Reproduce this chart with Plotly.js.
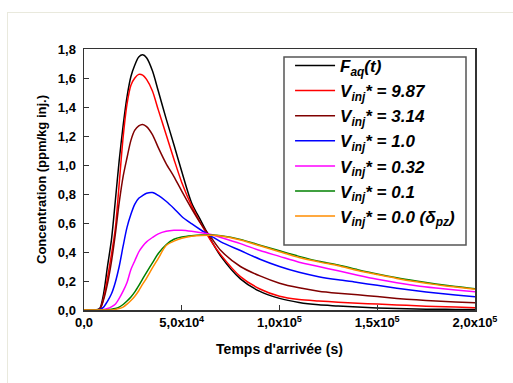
<!DOCTYPE html>
<html>
<head>
<meta charset="utf-8">
<script src="https://cdn.plot.ly/plotly-3.0.1.min.js"></script>
<style>
  html, body { margin: 0; padding: 0; background: #ffffff; }
  #frame { position: absolute; left: 7px; top: 12px; width: 600px; height: 400px;
           border-left: 1px solid #e9e9dd; border-top: 1px solid #e9e9dd; }
  #chart { position: absolute; left: 0; top: 0; width: 513px; height: 383px; }
</style>
</head>
<body>
<div id="frame"></div>
<div id="chart"></div>
<script>
// Time grid (s)
const t = [0, 5000, 8000, 10000, 12000, 14000, 16000, 18000, 20000, 22000, 24000, 26000, 28000, 30000,
  32000, 35000, 38000, 42000, 46000, 50000, 55000, 60000, 65000, 70000, 80000, 90000, 100000, 110000,
  120000, 130000, 140000, 150000, 160000, 170000, 180000, 190000, 200000];

const faq = [0, 0, 0.01, 0.11, 0.30, 0.48, 0.75, 1.03, 1.27, 1.47, 1.61, 1.69, 1.745, 1.76,
  1.74, 1.65, 1.51, 1.32, 1.14, 0.955, 0.74, 0.61, 0.48, 0.37, 0.215, 0.128, 0.08, 0.052,
  0.036, 0.028, 0.02, 0.014, 0.01, 0.007, 0.005, 0.004, 0.003];

const v987 = [0, 0, 0.005, 0.08, 0.22, 0.38, 0.56, 0.87, 1.19, 1.42, 1.55, 1.60, 1.625, 1.62,
  1.59, 1.51, 1.38, 1.21, 1.04, 0.88, 0.72, 0.59, 0.475, 0.38, 0.23, 0.145, 0.095, 0.072,
  0.062, 0.054, 0.047, 0.041, 0.035, 0.029, 0.024, 0.02, 0.016];

const v314 = [0, 0, 0.005, 0.07, 0.18, 0.33, 0.52, 0.74, 0.92, 1.05, 1.17, 1.24, 1.27, 1.28,
  1.265, 1.21, 1.12, 1.01, 0.92, 0.82, 0.70, 0.59, 0.50, 0.41, 0.30, 0.235, 0.185, 0.153,
  0.13, 0.116, 0.105, 0.093, 0.08, 0.07, 0.062, 0.056, 0.05];

const v10 = [0, 0, 0.003, 0.02, 0.06, 0.11, 0.19, 0.30, 0.44, 0.57, 0.66, 0.73, 0.77, 0.79,
  0.805, 0.81, 0.79, 0.75, 0.70, 0.645, 0.595, 0.55, 0.51, 0.47, 0.41, 0.35, 0.30, 0.26,
  0.23, 0.208, 0.19, 0.17, 0.15, 0.132, 0.117, 0.104, 0.092];

const v032 = [0, 0, 0, 0.004, 0.01, 0.022, 0.04, 0.08, 0.13, 0.19, 0.28, 0.34, 0.40, 0.44,
  0.47, 0.50, 0.525, 0.543, 0.55, 0.55, 0.543, 0.533, 0.52, 0.50, 0.458, 0.41, 0.37, 0.33,
  0.30, 0.27, 0.24, 0.212, 0.188, 0.168, 0.152, 0.138, 0.126];

const v01 = [0, 0, 0, 0, 0.002, 0.005, 0.01, 0.02, 0.038, 0.062, 0.09, 0.125, 0.168, 0.215,
  0.26, 0.325, 0.39, 0.45, 0.488, 0.503, 0.512, 0.517, 0.517, 0.512, 0.487, 0.447, 0.408, 0.37,
  0.336, 0.31, 0.278, 0.248, 0.222, 0.2, 0.18, 0.162, 0.147];

const v00 = [0, 0, 0, 0, 0, 0, 0.004, 0.01, 0.02, 0.04, 0.065, 0.095, 0.133, 0.178,
  0.22, 0.29, 0.356, 0.445, 0.475, 0.495, 0.508, 0.514, 0.515, 0.51, 0.483, 0.443, 0.402, 0.362,
  0.332, 0.305, 0.273, 0.245, 0.218, 0.195, 0.175, 0.158, 0.143];

const seriesNames = [
  'F<sub>aq</sub>(t)',
  'V<sub>inj</sub>* = 9.87',
  'V<sub>inj</sub>* = 3.14',
  'V<sub>inj</sub>* = 1.0',
  'V<sub>inj</sub>* = 0.32',
  'V<sub>inj</sub>* = 0.1',
  'V<sub>inj</sub>* = 0.0 (δ<sub>pz</sub>)'
];
const seriesData = [faq, v987, v314, v10, v032, v01, v00];
const seriesColors = ['#000000', '#ff0000', '#800000', '#0000ff', '#ff00ff', '#008000', '#ff8c00'];

const xTickVals = [0, 50000, 100000, 150000, 200000];
const xTickText = ['0,0', '5,0x10<sup>4</sup>', '1,0x10<sup>5</sup>', '1,5x10<sup>5</sup>', '2,0x10<sup>5</sup>'];
const yTickVals = [0, 0.2, 0.4, 0.6, 0.8, 1.0, 1.2, 1.4, 1.6, 1.8];
const yTickText = ['0,0', '0,2', '0,4', '0,6', '0,8', '1,0', '1,2', '1,4', '1,6', '1,8'];

const traces = seriesData.map((d, i) => ({
  x: t, y: d, type: 'scatter', mode: 'lines', name: seriesNames[i], legendgroup: 'g' + i,
  line: { color: seriesColors[i], width: 1.5, shape: 'spline', smoothing: 0.8 }
}));

const FONT = 'Arial, "Liberation Sans", sans-serif';
const layout = {
  width: 513, height: 383,
  margin: { l: 84, r: 38, t: 49, b: 73 },
  paper_bgcolor: 'rgba(0,0,0,0)',
  plot_bgcolor: '#ffffff',
  font: { family: FONT, color: '#000000', size: 13 },
  showlegend: true,
  legend: {
    x: 0.527, y: 1.004, xanchor: 'left', yanchor: 'top',
    bgcolor: 'rgba(0,0,0,0)', borderwidth: 0,
    font: { family: FONT, size: 17, color: '#000000', weight: 'bold', style: 'italic' },
    itemwidth: 40, tracegroupgap: 0
  },
  shapes: [{
    type: 'rect', xref: 'paper', yref: 'paper', layer: 'above',
    x0: 0.5115, x1: 0.977, y0: 0.249, y1: 0.969,
    line: { color: '#555555', width: 1.5 }, fillcolor: '#ffffff'
  }],
  xaxis: {
    range: [0, 200000], tickvals: xTickVals, ticktext: xTickText,
    ticks: 'inside', ticklen: 5, tickwidth: 1, tickcolor: '#333333',
    showline: true, linecolor: '#333333', linewidth: 1.5, mirror: true,
    showgrid: false, zeroline: false,
    tickfont: { family: FONT, size: 13, weight: 'bold' },
    title: { text: 'Temps d\'arrivée (s)', font: { family: FONT, size: 14, weight: 'bold' }, standoff: 15 }
  },
  yaxis: {
    range: [0, 1.8], tickvals: yTickVals, ticktext: yTickText,
    ticks: 'inside', ticklen: 5, tickwidth: 1, tickcolor: '#333333',
    showline: true, linecolor: '#333333', linewidth: 1.5, mirror: true,
    showgrid: false, zeroline: false,
    tickfont: { family: FONT, size: 13, weight: 'bold' },
    ticklabelstandoff: 4,
    title: { text: 'Concentration (ppm/kg inj.)', font: { family: FONT, size: 13, weight: 'bold' }, standoff: 8 }
  }
};

Plotly.newPlot('chart', traces, layout, { staticPlot: true, displayModeBar: false });
</script>
</body>
</html>
